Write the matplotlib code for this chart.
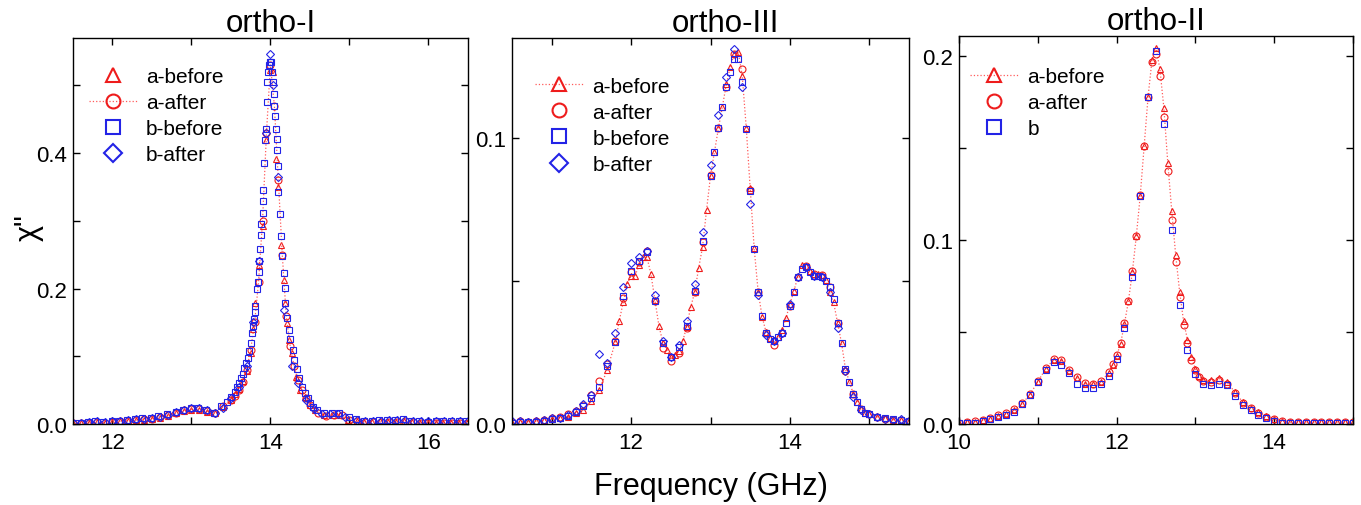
import matplotlib

matplotlib.use("Agg")
import matplotlib.pyplot as plt
from matplotlib.lines import Line2D
from matplotlib.ticker import FormatStrFormatter, MultipleLocator

plt.rcParams["font.family"] = ["Liberation Sans", "DejaVu Sans"]

RED = "#ee1c1c"
BLUE = "#2323e6"
LINE_RED = "#ff5a5a"

# ---- ortho-I ----
f1_ab = [11.5, 11.6, 11.7, 11.8, 11.9, 12.0, 12.1, 12.2, 12.3, 12.4, 12.5, 12.6, 12.7, 12.8, 12.9,
         13.0, 13.1, 13.2, 13.3, 13.4, 13.5,
         13.55, 13.6, 13.65, 13.7, 13.75, 13.78, 13.81, 13.85, 13.9, 13.95, 14.0, 14.03, 14.07, 14.1,
         14.14, 14.17, 14.19, 14.21, 14.24, 14.27, 14.32, 14.38, 14.44, 14.5, 14.57, 14.68, 14.79, 14.88, 14.98,
         15.09, 15.19, 15.29, 15.39, 15.49, 15.59, 15.69, 15.79, 15.89, 15.99, 16.09, 16.19, 16.29, 16.39, 16.49]
v1_ab = [0.001, 0.0015, 0.002, 0.003, 0.002, 0.003, 0.004, 0.005, 0.006, 0.0065, 0.0075, 0.009, 0.012, 0.016, 0.019,
         0.021, 0.021, 0.018, 0.017, 0.025, 0.036,
         0.044, 0.052, 0.063, 0.078, 0.105, 0.14, 0.178, 0.235, 0.292, 0.42, 0.522, 0.52, 0.391, 0.35,
         0.265, 0.213, 0.178, 0.149, 0.124, 0.105, 0.07, 0.05, 0.04, 0.028, 0.0207, 0.0133, 0.0133, 0.014, 0.0065,
         0.004, 0.003, 0.003, 0.004, 0.003, 0.003, 0.005, 0.003, 0.002, 0.002, 0.002, 0.002, 0.002, 0.002, 0.002]

f1_aa = [11.5, 11.6, 11.7, 11.8, 11.9, 12.0, 12.1, 12.2, 12.3, 12.4, 12.5, 12.6, 12.7, 12.8, 12.9,
         13.0, 13.1, 13.2, 13.3, 13.4, 13.5,
         13.55, 13.6, 13.65, 13.7, 13.75, 13.8, 13.85, 13.9, 13.95, 14.0, 14.05, 14.1, 14.15, 14.2,
         14.25, 14.3, 14.35, 14.4, 14.45, 14.5,
         14.6, 14.7, 14.8, 14.9, 15.0, 15.1, 15.2, 15.3, 15.4, 15.5, 15.6, 15.7, 15.8, 15.9, 16.0,
         16.1, 16.2, 16.3, 16.4, 16.5]
v1_aa = [0.001, 0.001, 0.002, 0.003, 0.002, 0.003, 0.004, 0.005, 0.006, 0.007, 0.008, 0.01, 0.013, 0.017, 0.02,
         0.022, 0.022, 0.019, 0.017, 0.026, 0.035,
         0.042, 0.05, 0.062, 0.08, 0.11, 0.15, 0.21, 0.30, 0.43, 0.53, 0.47, 0.36, 0.25, 0.16,
         0.115, 0.085, 0.065, 0.05, 0.038, 0.028,
         0.017, 0.012, 0.013, 0.013, 0.006, 0.004, 0.003, 0.003, 0.003, 0.003, 0.003, 0.004, 0.003, 0.002, 0.002,
         0.002, 0.002, 0.002, 0.002, 0.002]

f1_bb = [11.52, 11.6, 11.69, 11.78, 11.88, 11.99, 12.08, 12.18, 12.28, 12.38,
         12.49, 12.58, 12.69, 12.8, 12.89, 12.99, 13.08, 13.18, 13.28, 13.38,
         13.45, 13.5, 13.55, 13.58, 13.6, 13.63, 13.65, 13.67, 13.69, 13.71,
         13.73, 13.75, 13.77, 13.78, 13.79, 13.8, 13.81, 13.83, 13.84, 13.85,
         13.86, 13.87, 13.88, 13.885, 13.9, 13.905, 13.91, 13.92, 13.93, 13.95,
         13.955, 13.96, 13.965, 13.98, 13.99, 14.0, 14.01, 14.02, 14.03, 14.04,
         14.05, 14.06, 14.07, 14.08, 14.085, 14.09, 14.1, 14.12, 14.14, 14.15,
         14.17, 14.18, 14.19, 14.21, 14.23, 14.25, 14.28, 14.3, 14.34, 14.36,
         14.4, 14.44, 14.47, 14.5, 14.54, 14.59, 14.68, 14.78, 14.87, 14.99,
         15.08, 15.18, 15.28, 15.38, 15.48, 15.58, 15.68, 15.78, 15.88, 15.99,
         16.09, 16.19, 16.29, 16.39, 16.48]
v1_bb = [0.001, 0.002, 0.003, 0.004, 0.0035, 0.004, 0.0045, 0.0055, 0.0068, 0.0085,
         0.0095, 0.0115, 0.0145, 0.018, 0.021, 0.023, 0.023, 0.020, 0.016, 0.026,
         0.033, 0.04, 0.048, 0.055, 0.06, 0.068, 0.074, 0.082, 0.09, 0.098,
         0.108, 0.12, 0.135, 0.145, 0.155, 0.165, 0.175, 0.2, 0.21, 0.224,
         0.24, 0.258, 0.279, 0.296, 0.312, 0.33, 0.345, 0.386, 0.42, 0.436,
         0.475, 0.505, 0.52, 0.53, 0.534, 0.535, 0.534, 0.52, 0.505, 0.488,
         0.47, 0.455, 0.435, 0.421, 0.405, 0.381, 0.342, 0.31, 0.278, 0.248,
         0.223, 0.201, 0.179, 0.156, 0.139, 0.125, 0.109, 0.095, 0.081, 0.068,
         0.055, 0.046, 0.038, 0.031, 0.025, 0.0207, 0.017, 0.016, 0.016, 0.010,
         0.007, 0.005, 0.005, 0.006, 0.006, 0.006, 0.007, 0.005, 0.0045, 0.0035,
         0.0045, 0.0045, 0.0045, 0.0045, 0.004]

f1_ba = [11.5, 11.6, 11.7, 11.8, 11.9, 12.0, 12.1, 12.2, 12.3, 12.4, 12.5, 12.6, 12.7, 12.8, 12.9,
         13.0, 13.1, 13.2, 13.3, 13.4, 13.5,
         13.6, 13.7, 13.78, 13.85, 13.94, 13.99, 14.03, 14.09, 14.17, 14.27, 14.35, 14.45, 14.55, 14.65,
         14.75, 14.85, 14.95,
         15.1, 15.2, 15.3, 15.4, 15.5, 15.6, 15.7, 15.8, 15.9, 16.0, 16.1, 16.2, 16.3, 16.4, 16.5]
v1_ba = [0.002, 0.002, 0.003, 0.004, 0.003, 0.004, 0.005, 0.006, 0.007, 0.008, 0.009, 0.011, 0.014, 0.018, 0.021,
         0.023, 0.023, 0.02, 0.016, 0.024, 0.038,
         0.055, 0.085, 0.15, 0.24, 0.43, 0.547, 0.5, 0.365, 0.169, 0.085, 0.06, 0.035, 0.022, 0.015,
         0.015, 0.015, 0.01,
         0.006, 0.005, 0.005, 0.005, 0.006, 0.006, 0.006, 0.005, 0.004, 0.004, 0.004, 0.004, 0.004, 0.004, 0.004]

# ---- ortho-III ----
f2_ab = [10.5, 10.6, 10.7, 10.8, 10.9, 11.0, 11.1, 11.2, 11.3, 11.4, 11.5, 11.6, 11.7,
         11.8, 11.85, 11.9, 11.95,
         12.0, 12.05, 12.1, 12.15, 12.2, 12.25, 12.3, 12.35, 12.4, 12.45,
         12.5, 12.55, 12.6, 12.65, 12.7, 12.75, 12.8, 12.85, 12.9, 12.95,
         13.0, 13.05, 13.1, 13.15, 13.2, 13.25, 13.3, 13.35, 13.4, 13.45,
         13.5, 13.55, 13.6, 13.65, 13.7, 13.75, 13.8, 13.85, 13.9, 13.95,
         14.0, 14.05, 14.1, 14.15, 14.2, 14.25, 14.3, 14.35, 14.4, 14.45,
         14.5, 14.55, 14.6, 14.65, 14.7, 14.75, 14.8, 14.85, 14.9, 14.95,
         15.0, 15.1, 15.2, 15.3, 15.4, 15.5]
v2_ab = [0.0005, 0.0008, 0.0008, 0.001, 0.0013, 0.0018, 0.0022, 0.0025, 0.004, 0.005, 0.008, 0.012, 0.019,
         0.0286, 0.036, 0.0425, 0.049,
         0.0519, 0.0519, 0.0555, 0.0585, 0.0583, 0.0524, 0.0433, 0.0344, 0.0285, 0.026,
         0.0235, 0.024, 0.0256, 0.029, 0.034, 0.0408, 0.046, 0.0544, 0.062, 0.0748,
         0.0868, 0.0952, 0.1035, 0.111, 0.119, 0.125, 0.1295, 0.130, 0.1217, 0.1036,
         0.0824, 0.0614, 0.0463, 0.0375, 0.0321, 0.0301, 0.0295, 0.0305, 0.033, 0.037,
         0.042, 0.0465, 0.0515, 0.0556, 0.0552, 0.0535, 0.0525, 0.0525, 0.052, 0.0505,
         0.046, 0.0425, 0.0355, 0.0283, 0.0192, 0.0146, 0.0105, 0.0076, 0.0052, 0.004,
         0.0035, 0.0025, 0.002, 0.0015, 0.0015, 0.001]

f2_bb = [10.5, 10.6, 10.7, 10.8, 10.9, 11.0, 11.1, 11.2, 11.3, 11.4, 11.5, 11.6, 11.7,
         11.8, 11.9, 12.0, 12.1, 12.2, 12.3, 12.4, 12.5, 12.6, 12.7, 12.8, 12.9, 13.0,
         13.05, 13.1, 13.15, 13.2, 13.25, 13.3, 13.35, 13.4, 13.45, 13.5,
         13.55, 13.6, 13.65, 13.7, 13.75, 13.8, 13.85, 13.9, 13.95,
         14.0, 14.05, 14.1, 14.15, 14.2, 14.25, 14.3, 14.35, 14.4, 14.45,
         14.5, 14.55, 14.6, 14.65, 14.7, 14.75, 14.8, 14.85, 14.9, 14.95,
         15.0, 15.1, 15.2, 15.3, 15.4, 15.5]
v2_bb = [0.0003, 0.0006, 0.0006, 0.0008, 0.0012, 0.0017, 0.0021, 0.0027, 0.0043, 0.0064, 0.0091, 0.0128, 0.0202,
         0.0288, 0.0446, 0.0536, 0.057, 0.0603, 0.0431, 0.0283, 0.0233, 0.0268, 0.0344, 0.0466, 0.0639, 0.0868,
         0.0952, 0.1035, 0.111, 0.1177, 0.123, 0.1277, 0.1277, 0.1197, 0.103, 0.0816,
         0.0612, 0.046, 0.0379, 0.032, 0.0297, 0.0292, 0.0303, 0.032, 0.0355,
         0.0414, 0.046, 0.0513, 0.0542, 0.0548, 0.053, 0.0519, 0.0516, 0.0513, 0.0501,
         0.0478, 0.0437, 0.0355, 0.0283, 0.0192, 0.0146, 0.0105, 0.0076, 0.0052, 0.004,
         0.0035, 0.0023, 0.002, 0.0017, 0.0015, 0.0012]

f2_after = [10.5, 10.6, 10.7, 10.8, 10.9, 11.0, 11.1, 11.2, 11.3, 11.4,
            11.5, 11.6, 11.7, 11.8, 11.9, 12.0, 12.1, 12.2, 12.3, 12.4,
            12.5, 12.6, 12.7, 12.8, 12.9, 13.0, 13.1, 13.2, 13.3, 13.4,
            13.5, 13.6, 13.7, 13.8, 13.9, 14.0, 14.1, 14.2, 14.3, 14.4,
            14.5, 14.6, 14.7, 14.8, 14.9, 15.0, 15.1, 15.2, 15.3, 15.4, 15.5]
v2_aa = [0.0008, 0.001, 0.0008, 0.001, 0.0015, 0.002, 0.0025, 0.0035, 0.0045, 0.0065,
         0.01, 0.0151, 0.021, 0.029, 0.044, 0.053, 0.0565, 0.0605, 0.043, 0.0265,
         0.0222, 0.025, 0.0335, 0.046, 0.0635, 0.087, 0.1035, 0.118, 0.1295, 0.124,
         0.082, 0.046, 0.032, 0.0275, 0.032, 0.0414, 0.0513, 0.0552, 0.0525, 0.052,
         0.0478, 0.0355, 0.0185, 0.0105, 0.0052, 0.0035, 0.0025, 0.0018, 0.0015, 0.0015, 0.0012]
v2_ba = [0.001, 0.001, 0.0008, 0.001, 0.0015, 0.002, 0.0022, 0.003, 0.0045, 0.007,
         0.0101, 0.0244, 0.0215, 0.032, 0.0479, 0.0562, 0.0583, 0.0605, 0.045, 0.029,
         0.0235, 0.0275, 0.036, 0.049, 0.067, 0.0905, 0.108, 0.1215, 0.131, 0.118,
         0.077, 0.045, 0.031, 0.029, 0.032, 0.042, 0.0513, 0.0548, 0.0519, 0.0513,
         0.046, 0.0335, 0.0185, 0.0095, 0.005, 0.0035, 0.0025, 0.0018, 0.0015, 0.0018, 0.0012]

# ---- ortho-II ----
f3_a = [10.0, 10.1, 10.2, 10.3, 10.4, 10.5, 10.6, 10.7, 10.8, 10.9,
        11.0, 11.1, 11.2, 11.3, 11.4, 11.5, 11.6, 11.7, 11.8, 11.9,
        11.95, 12.0, 12.05, 12.1, 12.15, 12.2, 12.25, 12.3, 12.35, 12.4, 12.45, 12.5,
        12.55, 12.6, 12.65, 12.7, 12.75, 12.8, 12.85, 12.9, 12.95, 13.0, 13.05, 13.1,
        13.2, 13.3, 13.4, 13.5, 13.6, 13.7, 13.8, 13.9, 14.0, 14.1,
        14.2, 14.3, 14.4, 14.5, 14.6, 14.7, 14.8, 14.9, 15.0]
v3_ab = [0.0005, 0.001, 0.0012, 0.002, 0.003, 0.0045, 0.0055, 0.0075, 0.011, 0.016,
         0.023, 0.030, 0.035, 0.0345, 0.029, 0.025, 0.022, 0.0215, 0.023, 0.028,
         0.032, 0.037, 0.0435, 0.0545, 0.0667, 0.0825, 0.102, 0.124, 0.151, 0.178, 0.198, 0.2045,
         0.193, 0.172, 0.142, 0.116, 0.092, 0.072, 0.056, 0.0457, 0.0362, 0.030, 0.026, 0.024,
         0.0239, 0.0248, 0.0227, 0.0175, 0.012, 0.0088, 0.0065, 0.0044, 0.003, 0.0017,
         0.001, 0.001, 0.001, 0.001, 0.001, 0.001, 0.001, 0.001, 0.001]
v3_aa = [0.0008, 0.0012, 0.0015, 0.0022, 0.0032, 0.0048, 0.0058, 0.008, 0.0115, 0.0165,
         0.0235, 0.0305, 0.0355, 0.035, 0.0295, 0.0255, 0.0225, 0.022, 0.0235, 0.0285,
         0.0325, 0.0375, 0.044, 0.055, 0.067, 0.083, 0.102, 0.1245, 0.151, 0.178, 0.197, 0.201,
         0.1894, 0.167, 0.1375, 0.111, 0.088, 0.069, 0.054, 0.044, 0.035, 0.0295, 0.0255, 0.0235,
         0.023, 0.024, 0.022, 0.017, 0.0115, 0.0085, 0.006, 0.004, 0.0028, 0.0016,
         0.0012, 0.001, 0.001, 0.001, 0.001, 0.001, 0.001, 0.001, 0.001]

f3_b = [10.0, 10.1, 10.2, 10.3, 10.4, 10.5, 10.6, 10.7, 10.8, 10.9,
        11.0, 11.1, 11.2, 11.3, 11.4, 11.5, 11.6, 11.7, 11.8, 11.9,
        12.0, 12.1, 12.2, 12.3, 12.4, 12.5, 12.6, 12.7, 12.8, 12.9,
        13.0, 13.1, 13.2, 13.3, 13.4, 13.5, 13.6, 13.7, 13.8, 13.9,
        14.0, 14.1, 14.2, 14.3, 14.4, 14.5, 14.6, 14.7, 14.8, 14.9, 15.0]
v3_b = [0.0004, 0.0007, 0.0008, 0.0018, 0.0025, 0.0040, 0.0049, 0.0067, 0.0107, 0.0158,
        0.023, 0.0295, 0.0335, 0.032, 0.0277, 0.022, 0.0195, 0.0195, 0.022, 0.026,
        0.0353, 0.052, 0.080, 0.124, 0.178, 0.203, 0.163, 0.1055, 0.0645, 0.040,
        0.027, 0.022, 0.0213, 0.022, 0.021, 0.015, 0.0105, 0.0074, 0.0050, 0.0032,
        0.0014, 0.0005, 0.0003, 0.0003, 0.0003, 0.0003, 0.0003, 0.0003, 0.0003, 0.0003, 0.0003]

MARKERS = {"tri": "^", "circ": "o", "sq": "s", "dia": "D"}


def draw(ax, f, v, kind, color, line=False, ms=5.0):
    ax.plot(f, v, linestyle=":" if line else "none", color=LINE_RED, lw=0.9,
            marker=MARKERS[kind], ms=ms, mfc="none", mec=color, mew=0.8)


def handle(kind, color, line=False):
    return Line2D([], [], linestyle=":" if line else "none", color=LINE_RED, lw=0.9,
                  marker=MARKERS[kind], ms=10 if kind != "dia" else 9, mfc="none", mec=color, mew=1.5)


def style(ax, xlim, ylim, ymajor, yminor):
    ax.set_xlim(*xlim)
    ax.set_ylim(*ylim)
    ax.xaxis.set_major_locator(MultipleLocator(2))
    ax.xaxis.set_minor_locator(MultipleLocator(1))
    ax.yaxis.set_major_locator(MultipleLocator(ymajor))
    ax.yaxis.set_minor_locator(MultipleLocator(yminor))
    ax.yaxis.set_major_formatter(FormatStrFormatter("%.1f"))
    ax.tick_params(which="both", direction="in", top=True, right=True, length=5, width=1.0, labelsize=16)
    ax.tick_params(axis="x", pad=6)
    ax.tick_params(axis="y", pad=4)
    for sp in ax.spines.values():
        sp.set_linewidth(1.0)


def add_legend(ax, handles, labels, anchor):
    ax.legend(handles, labels, loc="upper left", bbox_to_anchor=anchor, frameon=False, fontsize=15,
              handlelength=2.3, handletextpad=0.45, labelspacing=0.34, borderpad=0, borderaxespad=0,
              numpoints=1)


fig = plt.figure(figsize=(13.61, 5.06), dpi=100)
ax1 = fig.add_axes([0.0536, 0.160, 0.2902, 0.763])
ax2 = fig.add_axes([0.3762, 0.160, 0.2917, 0.763])
ax3 = fig.add_axes([0.7046, 0.160, 0.2895, 0.767])

# ortho-I
draw(ax1, f1_ab, v1_ab, "tri", RED)
draw(ax1, f1_aa, v1_aa, "circ", RED, line=True)
draw(ax1, f1_bb, v1_bb, "sq", BLUE)
draw(ax1, f1_ba, v1_ba, "dia", BLUE, ms=4.5)
style(ax1, (11.5, 16.5), (0, 0.57), 0.2, 0.1)
ax1.set_title("ortho-I", fontsize=22.5, pad=4)
add_legend(ax1, [handle("tri", RED), handle("circ", RED, True), handle("sq", BLUE), handle("dia", BLUE)],
           ["a-before", "a-after", "b-before", "b-after"], (0.04, 0.925))

# ortho-III
draw(ax2, f2_ab, v2_ab, "tri", RED, line=True)
draw(ax2, f2_after, v2_aa, "circ", RED)
draw(ax2, f2_bb, v2_bb, "sq", BLUE)
draw(ax2, f2_after, v2_ba, "dia", BLUE, ms=4.5)
style(ax2, (10.5, 15.5), (0, 0.135), 0.1, 0.05)
ax2.set_title("ortho-III", fontsize=22.5, pad=4, x=0.537)
add_legend(ax2, [handle("tri", RED, True), handle("circ", RED), handle("sq", BLUE), handle("dia", BLUE)],
           ["a-before", "a-after", "b-before", "b-after"], (0.058, 0.9))

# ortho-II
draw(ax3, f3_a, v3_ab, "tri", RED, line=True)
draw(ax3, f3_a, v3_aa, "circ", RED)
draw(ax3, f3_b, v3_b, "sq", BLUE)
style(ax3, (10, 15), (0, 0.211), 0.1, 0.05)
ax3.set_title("ortho-II", fontsize=22.5, pad=4)
add_legend(ax3, [handle("tri", RED, True), handle("circ", RED), handle("sq", BLUE)],
           ["a-before", "a-after", "b"], (0.028, 0.92))

fig.text(0.5224, 0.037, "Frequency (GHz)", ha="center", va="center", fontsize=22)
fig.text(0.021, 0.551, "χ\"", rotation=90, ha="center", va="center", fontsize=22)

fig.savefig("out.png", dpi=100)
plt.close(fig)
